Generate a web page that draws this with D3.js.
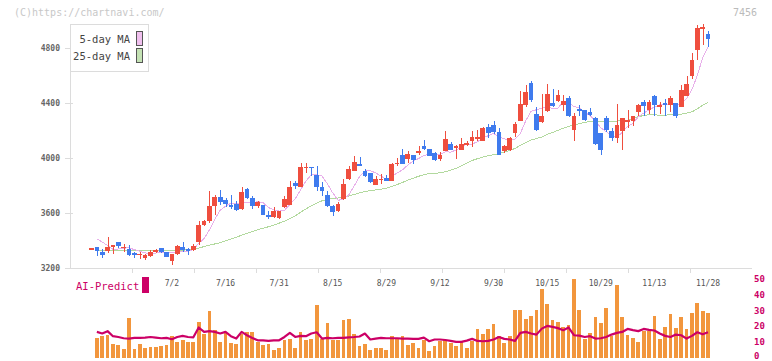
<!DOCTYPE html>
<html>
<head>
<meta charset="utf-8">
<script src="https://cdn.jsdelivr.net/npm/d3@7"></script>
<style>
  body { margin: 0; background: #fff; }
  svg { display: block; font-family: "DejaVu Sans Mono", "Liberation Mono", monospace; }
</style>
</head>
<body>
<svg width="772" height="361"></svg>
<script>
// trading days shown (2025)
const dates = [
  "6/11","6/12","6/13","6/16","6/17","6/18","6/19","6/20","6/23","6/24","6/25","6/26","6/27","6/30",
  "7/1","7/2","7/3","7/4","7/7","7/8","7/9","7/10","7/11","7/14","7/15","7/16","7/17","7/18","7/22","7/23","7/24","7/25","7/28","7/29","7/30","7/31",
  "8/1","8/4","8/5","8/6","8/7","8/8","8/12","8/13","8/14","8/15","8/18","8/19","8/20","8/21","8/22","8/25","8/26","8/27","8/28","8/29",
  "9/1","9/2","9/3","9/4","9/5","9/8","9/9","9/10","9/11","9/12","9/16","9/17","9/18","9/19","9/22","9/24","9/25","9/26","9/29","9/30",
  "10/1","10/2","10/3","10/6","10/7","10/8","10/9","10/10","10/14","10/15","10/16","10/17","10/20","10/21","10/22","10/23","10/24","10/27","10/28","10/29","10/30","10/31",
  "11/4","11/5","11/6","11/7","11/10","11/11","11/12","11/13","11/14","11/17","11/18","11/19","11/20","11/21","11/25","11/26","11/27","11/28"
];

const open = [
  3343,3355,3313,3326,3362,3389,3353,3338,3306,3300,
  3270,3289,3318,3345,3318,3253,3299,3355,3340,3328,
  3386,3510,3539,3648,3713,3697,3655,3665,3629,3775,
  3706,3653,3660,3588,3573,3561,3641,3660,3815,3791,
  3928,3937,3879,3789,3733,3648,3612,3704,3849,3908,
  3956,3908,3891,3806,3845,3852,3835,3960,4019,3995,
  4019,4046,4084,4067,4036,3995,4053,4102,4080,4060,
  4107,4126,4148,4126,4222,4242,4189,4053,4060,4179,
  4271,4383,4545,4322,4259,4339,4400,4412,4383,4436,
  4206,4358,4351,4334,4291,4182,4291,4198,4145,4198,
  4274,4271,4332,4404,4351,4448,4368,4400,4383,4400,
  4368,4448,4593,4783,4935,4904
];
const high = [
  3345,3355,3338,3428,3367,3389,3375,3367,3318,3318,
  3304,3328,3340,3345,3318,3304,3369,3389,3345,3375,
  3544,3551,3757,3733,3769,3709,3728,3684,3786,3782,
  3721,3689,3660,3617,3643,3617,3721,3835,3835,3964,
  3964,3937,3939,3823,3762,3660,3677,3849,3944,4012,
  4004,3922,3891,3866,3886,3879,3964,4000,4068,4048,
  4024,4084,4133,4067,4041,4044,4193,4116,4097,4145,
  4126,4193,4206,4222,4247,4266,4218,4097,4153,4262,
  4489,4533,4557,4371,4468,4540,4504,4497,4455,4448,
  4327,4388,4351,4363,4295,4182,4303,4218,4395,4291,
  4351,4308,4393,4424,4424,4455,4407,4431,4453,4400,
  4533,4593,4764,4970,4977,4926
];
const low = [
  3343,3284,3273,3306,3302,3345,3313,3289,3273,3265,
  3258,3280,3309,3306,3277,3219,3297,3316,3292,3321,
  3369,3503,3527,3588,3660,3641,3629,3612,3624,3704,
  3631,3636,3583,3558,3563,3556,3636,3660,3775,3789,
  3894,3866,3757,3721,3641,3575,3607,3697,3842,3903,
  3946,3862,3820,3801,3811,3830,3830,3939,3959,3964,
  3959,4019,4060,4012,3980,3980,4053,4055,3995,4060,
  4084,4077,4126,4126,4145,4175,4024,4036,4053,4150,
  4271,4368,4404,4193,4254,4335,4368,4407,4339,4295,
  4126,4302,4271,4302,4092,4024,4189,4121,4109,4060,
  4218,4230,4302,4302,4320,4308,4320,4308,4332,4291,
  4368,4448,4577,4710,4824,4804
];
const close = [
  3345,3321,3292,3353,3367,3357,3355,3297,3295,3304,
  3297,3318,3333,3313,3280,3304,3362,3333,3321,3362,
  3515,3539,3653,3713,3682,3665,3641,3624,3750,3709,
  3653,3677,3588,3573,3617,3617,3704,3791,3793,3937,
  3937,3930,3786,3757,3648,3607,3668,3813,3922,3971,
  3946,3871,3825,3849,3849,3835,3958,3964,3959,4029,
  3982,4048,4067,4012,3983,4024,4138,4060,4084,4102,
  4109,4150,4150,4218,4182,4189,4024,4084,4145,4249,
  4395,4480,4424,4206,4308,4468,4380,4460,4417,4302,
  4308,4344,4279,4315,4104,4060,4201,4145,4242,4291,
  4276,4308,4383,4375,4404,4383,4388,4383,4436,4303,
  4497,4538,4715,4945,4952,4868
];

const ma5 = [
  null,3411,3389,3364,3336,3338,3345,3346,3334,3322,
  3310,3302,3309,3313,3308,3310,3318,3318,3320,3336,
  3379,3414,3478,3556,3620,3650,3671,3665,3672,3678,
  3675,3683,3675,3640,3622,3614,3620,3660,3704,3768,
  3832,3878,3877,3869,3812,3746,3693,3699,3732,3796,
  3864,3905,3907,3892,3868,3846,3863,3891,3913,3949,
  3978,3996,4017,4028,4018,4027,4045,4043,4058,4082,
  4099,4101,4119,4146,4162,4178,4153,4139,4125,4138,
  4179,4271,4339,4351,4363,4377,4357,4364,4407,4405,
  4373,4366,4330,4310,4270,4220,4192,4165,4150,4188,
  4231,4252,4300,4327,4349,4371,4387,4387,4399,4379,
  4401,4431,4498,4600,4729,4804
];
const ma25 = [
  null,3330,3330,3329,3329,3328,3328,3327,3327,3327,
  3327,3327,3327,3328,3328,3328,3329,3330,3332,3336,
  3345,3356,3366,3375,3384,3397,3410,3423,3439,3453,
  3465,3478,3489,3500,3513,3526,3541,3559,3579,3605,
  3630,3653,3671,3689,3700,3704,3709,3715,3724,3735,
  3746,3756,3764,3768,3773,3780,3792,3807,3822,3839,
  3853,3867,3878,3887,3889,3892,3900,3911,3924,3943,
  3963,3982,3995,4007,4016,4025,4032,4042,4054,4070,
  4092,4113,4131,4141,4153,4172,4185,4201,4217,4230,
  4241,4250,4258,4268,4268,4266,4268,4267,4268,4273,
  4276,4288,4300,4309,4315,4315,4311,4309,4318,4318,
  4319,4326,4336,4357,4383,4405
];

// lower panel, read on the 0-50 right axis
const volume = [
  null,12.5,14.2,14.8,8.7,8.1,5.5,25.2,5.5,8.7,
  6.4,6.8,6.8,7.4,8.1,13.8,10.4,11.2,10.2,10.2,
  22.9,15.5,29.9,17.6,10.2,16.1,9.5,8.7,15.5,16.5,
  16.3,10.2,8.1,8.7,4.9,6.4,11.2,11.9,6.4,16.5,
  11.7,11.9,33.5,12.3,22.0,11.7,11.7,23.9,24.6,15.0,
  7.4,8.7,4.9,6.1,6.1,4.9,13.8,12.3,13.8,8.1,
  9.5,6.1,11.2,4.2,7.4,10.8,11.2,9.5,7.4,10.8,
  6.6,10.8,18.2,15.5,18.2,21.4,13.8,9.5,13.8,30.3,
  30.3,24.8,26.5,30.3,43.7,34.1,23.9,22.5,19.7,21.2,
  50,30.3,11.9,15.9,25.9,22.3,31.6,13.8,46.2,25.9,
  14.6,12.5,10.2,17.0,17.0,26.5,12.3,19.5,27.8,18.9,
  25.9,18.2,28.4,34.8,29.7,28.4
];
const aiPredict = [
  null,16.5,15.5,17.0,13.8,13.3,12.5,12.3,12.7,12.7,
  12.9,13.3,12.9,12.5,12.7,11.9,13.3,14.0,13.3,13.1,
  19.3,16.5,17.0,16.5,15.5,16.5,13.8,12.3,16.5,14.4,
  12.7,11.2,11.2,10.8,11.2,11.2,13.3,15.9,13.3,14.0,
  13.8,15.5,16.3,12.3,12.7,12.5,12.7,12.7,13.1,13.3,
  13.6,15.5,11.7,12.3,12.7,12.5,12.5,12.5,12.3,12.3,
  12.1,12.1,12.9,10.6,11.7,11.7,11.4,10.8,10.2,10.2,
  11.0,12.1,10.8,10.6,10.8,11.7,13.3,12.1,11.7,10.8,
  15.9,16.5,15.5,14.8,18.6,20.3,19.7,18.9,17.6,19.3,
  14.4,14.2,13.3,13.8,12.3,12.5,13.3,14.8,15.9,16.5,
  18.4,17.6,17.0,18.4,17.8,17.4,15.5,14.0,13.3,14.8,
  14.4,12.3,14.0,16.3,15.0,16.3
];

const dateLabels = ["7/2","7/16","7/31","8/15","8/29","9/12","9/30","10/15","10/29","11/13","11/28"];
const priceTicks = [3200, 3600, 4000, 4400, 4800];
const rightTicks = [0, 10, 20, 30, 40, 50];

const RED = "#ef4e3e", BLUE = "#3f7bee", ORANGE = "#f2963d", CRIMSON = "#cc0066";

const svg = d3.select("svg");
const plot = {left: 70, right: 752, top: 24, bottom: 268};

const x = d3.scalePoint().domain(dates).range([91.5, 708]);
const step = x.step();
const y = d3.scaleLinear().domain([3200, 4800]).range([268, 48]);
const yv = d3.scaleLinear().domain([0, 50]).range([358, 279]);

svg.append("rect").attr("width", 772).attr("height", 361).attr("fill", "#fff");

// header texts
svg.append("text").attr("x", 14).attr("y", 16)
  .attr("fill", "#c8c8c8").style("font-size", "10px")
  .text("(C)https://chartnavi.com/");
svg.append("text").attr("x", 757).attr("y", 16).attr("text-anchor", "end")
  .attr("fill", "#bbb").style("font-size", "10px").text("7456");

// axes
const axes = svg.append("g").attr("shape-rendering", "crispEdges");
axes.append("line").attr("x1", plot.left + 0.5).attr("x2", plot.left + 0.5)
  .attr("y1", plot.top).attr("y2", plot.bottom).attr("stroke", "#dcdcdc");
axes.append("line").attr("x1", plot.left).attr("x2", plot.right)
  .attr("y1", plot.bottom + 0.5).attr("y2", plot.bottom + 0.5).attr("stroke", "#dcdcdc");

axes.selectAll(".ytick").data(priceTicks).enter().append("line")
  .attr("x1", 65).attr("x2", 73)
  .attr("y1", d => Math.round(y(d)) + 0.5).attr("y2", d => Math.round(y(d)) + 0.5)
  .attr("stroke", "#dcdcdc");
svg.selectAll(".ylab").data(priceTicks).enter().append("text")
  .attr("x", 60).attr("y", d => y(d) + 3)
  .attr("text-anchor", "end").attr("fill", "#666")
  .style("font-size", "8px").style("font-weight", "bold")
  .text(d => d);

// evenly spaced ticks along the bottom axis
const gridX = d3.scaleLinear().domain([0, 11]).range([plot.left, plot.right]);
axes.selectAll(".xtick").data(d3.range(1, 11)).enter().append("line")
  .attr("x1", d => Math.round(gridX(d)) + 0.5).attr("x2", d => Math.round(gridX(d)) + 0.5)
  .attr("y1", plot.bottom).attr("y2", plot.bottom + 5)
  .attr("stroke", "#dcdcdc");

svg.selectAll(".xlab").data(dateLabels).enter().append("text")
  .attr("x", d => x(d)).attr("y", 286)
  .attr("text-anchor", "middle").attr("fill", "#555")
  .style("font-size", "8px").text(d => d);

// legend
const lg = svg.append("g").attr("shape-rendering", "crispEdges");
lg.append("rect").attr("x", 70.5).attr("y", 24.5).attr("width", 78).attr("height", 47)
  .attr("fill", "#fff").attr("stroke", "#dcdcdc");
[["5-day MA", "#f0c0ee", 31], ["25-day MA", "#c4e2b4", 48]].forEach(([name, col, top]) => {
  lg.append("text").attr("x", 130).attr("y", top + 12).attr("text-anchor", "end")
    .attr("fill", "#444").style("font-size", "10.5px").text(name);
  lg.append("rect").attr("x", 136.5).attr("y", top + 0.5).attr("width", 6).attr("height", 14)
    .attr("fill", col).attr("stroke", "#555");
});

// moving averages
const idx = d3.range(dates.length);
const maLine = arr => d3.line()
  .defined(i => arr[i] != null)
  .x(i => x(dates[i]))
  .y(i => y(arr[i]));

svg.append("path").datum(idx).attr("d", maLine(ma25))
  .attr("fill", "none").attr("stroke", "#b2d99e").attr("stroke-width", 1)
  .attr("shape-rendering", "crispEdges");
svg.append("path").datum(idx).attr("d", maLine(ma5))
  .attr("fill", "none").attr("stroke", "#e8b0ea").attr("stroke-width", 1)
  .attr("shape-rendering", "crispEdges");

// candles
const bodyW = step * 0.88;
const candles = svg.append("g").attr("shape-rendering", "crispEdges")
  .selectAll("g").data(idx).enter().append("g");
candles.append("line")
  .attr("x1", i => Math.round(x(dates[i])) + 0.5).attr("x2", i => Math.round(x(dates[i])) + 0.5)
  .attr("y1", i => y(high[i])).attr("y2", i => y(low[i]))
  .attr("stroke", i => close[i] >= open[i] ? RED : BLUE);
candles.append("rect")
  .attr("x", i => x(dates[i]) - bodyW / 2)
  .attr("width", bodyW)
  .attr("y", i => y(Math.max(open[i], close[i])))
  .attr("height", i => Math.max(1.5, Math.abs(y(open[i]) - y(close[i]))))
  .attr("fill", i => close[i] >= open[i] ? RED : BLUE);

// lower panel: volume bars and AI-Predict line
const barW = step * 0.7;
svg.append("g").attr("shape-rendering", "crispEdges")
  .selectAll("rect").data(idx.filter(i => volume[i] != null)).enter().append("rect")
  .attr("x", i => x(dates[i]) - barW / 2)
  .attr("width", barW)
  .attr("y", i => yv(volume[i]))
  .attr("height", i => yv(0) - yv(volume[i]))
  .attr("fill", ORANGE);

svg.append("path").datum(idx.filter(i => aiPredict[i] != null))
  .attr("d", d3.line().x(i => x(dates[i])).y(i => yv(aiPredict[i])))
  .attr("fill", "none").attr("stroke", CRIMSON).attr("stroke-width", 2.2)
  .attr("stroke-linejoin", "round");

svg.selectAll(".rlab").data(rightTicks).enter().append("text")
  .attr("x", 754).attr("y", d => Math.min(yv(d) + 3, 358.5))
  .attr("fill", CRIMSON).style("font-size", "9px").style("font-weight", "bold")
  .text(d => d);

svg.append("text").attr("x", 76).attr("y", 290)
  .attr("fill", CRIMSON).style("font-size", "10.5px").text("AI-Predict");
svg.append("rect").attr("x", 142).attr("y", 277).attr("width", 7).attr("height", 16)
  .attr("fill", CRIMSON);
</script>
</body>
</html>
